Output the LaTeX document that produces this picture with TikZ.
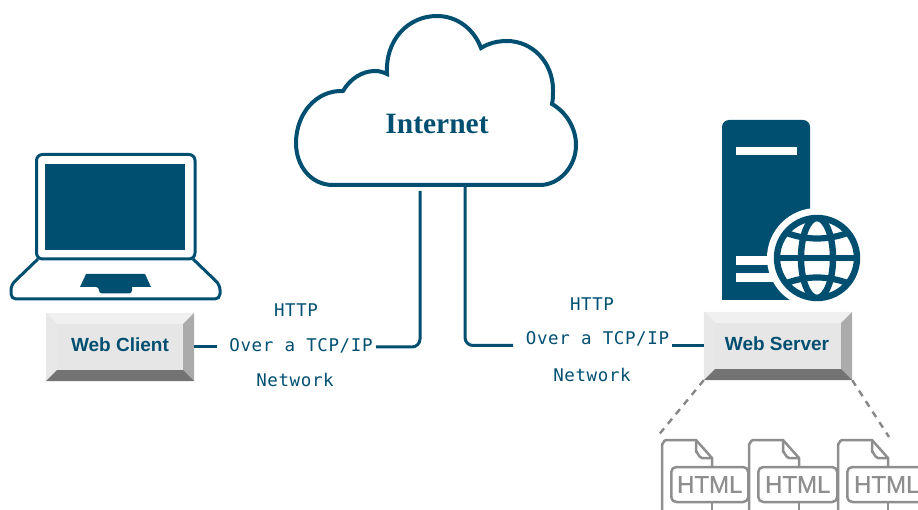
\documentclass[tikz,border=0pt]{standalone}
\usepackage{fontspec}
\setmainfont{Liberation Sans}
\newfontfamily\monofam[LetterSpace=3.5]{DejaVu Sans Mono}
\newfontfamily\serifam{Liberation Serif}
\newfontfamily\htmlfam[FakeBold=0.7]{Liberation Sans}
\definecolor{teal}{HTML}{004F71}
\definecolor{fgray}{HTML}{8E8E8E}
\definecolor{BtnC}{HTML}{E6E6E6}
\tikzset{
  tealline/.style={draw=teal,line width=3pt,line join=round},
  wire/.style={tealline,rounded corners=8pt},
  lbl/.style={text=teal,inner sep=0pt,font=\monofam\fontsize{17.5}{20}\selectfont},
  btnbox/.style={fill=BtnC,minimum width=148pt,minimum height=68pt,inner sep=0pt},
  btntext/.style={text=teal,inner sep=0pt,font=\bfseries\fontsize{19}{22}\selectfont},
  filepath/.style={draw=fgray,line width=2.5pt,line join=round},
  dashline/.style={draw=gray!95,line width=2.4pt,dash pattern=on 6.5pt off 6pt}
}
\usetikzlibrary{calc}
\newcommand{\bevel}[1]{%
  \fill[color=white!94!black] (#1.north west) -- (#1.north east) -- ++(-11,11) -- ($(#1.north west)+(11,11)$) -- cycle;
  \fill[color=white!91!black] (#1.north west) -- (#1.south west) -- ++(11,-11) -- ($(#1.north west)+(11,11)$) -- cycle;
  \fill[color=black!33] (#1.north east) -- (#1.south east) -- ++(-11,-11) -- ($(#1.north east)+(-11,11)$) -- cycle;
  \fill[color=black!55] (#1.south west) -- (#1.south east) -- ++(-11,-11) -- ($(#1.south west)+(11,-11)$) -- cycle;
}
\newcommand{\htmlfile}[3]{% name, left x, label width
  \begin{scope}[xshift=#2pt]
    \draw[filepath] (0,510) -- (0,444) to[out=-90,in=180] (4,440) -- (34,440) -- (50,458) -- (50,467);
    \draw[filepath] (34,440) -- (34,452) to[out=90,in=180] (40,458) -- (50,458);
    \draw[filepath] (50,502) -- (50,510);
    \node[filepath,fill=white,rounded corners=5pt,minimum width=#3pt,minimum height=35pt,inner sep=0pt,anchor=west,text=fgray,font=\htmlfam\fontsize{24}{26}\selectfont] (#1) at (8,484.5) {HTML};
  \end{scope}
}
\begin{document}
\begin{tikzpicture}[x=1pt,y=-1pt]
\useasboundingbox (0,0) rectangle (918,510);
\clip (0,0) rectangle (918,510);

% Cloud
\draw[teal,line width=4pt,line join=miter] (333,185)
  .. controls (311,185) and (296,166) .. (296,143)
  .. controls (296,114) and (316,90) .. (343,91)
  .. controls (350,79) and (362,71) .. (375,71)
  .. controls (379,71) and (383,72) .. (387,74)
  .. controls (385,40) and (408,16) .. (437,16)
  .. controls (457,16) and (474,29) .. (481,48)
  .. controls (489,43) and (498,41) .. (507,41)
  .. controls (532,41) and (553,62) .. (553,90)
  .. controls (553,95) and (553,100) .. (552,104)
  .. controls (566,112) and (576,128) .. (576,145)
  .. controls (576,167) and (559,185) .. (540,185) -- cycle;
\node[text=teal,inner sep=0pt,font=\serifam\bfseries\fontsize{29.5}{32}\selectfont] (internet) at (437,124) {Internet};
\coordinate (cloudL) at (420,191);
\coordinate (cloudR) at (465,185);

% Laptop
\draw[teal,line width=3pt,rounded corners=6pt] (36.5,154.5) rectangle (195,259);
\fill[teal] (45,164) rectangle (185,250.5);
\draw[teal,line width=3pt,line join=round,rounded corners=5pt] (38,259) -- (11,285) -- (11,299) -- (220,299) -- (220,285) -- (193,259);
\fill[teal] (86,274) -- (145,274) -- (151,287) -- (132,287) -- (132,290) [rounded corners=3pt] -- (132,293.5) -- (99,293.5) -- (99,287) [sharp corners] -- (80,287) -- cycle;

% Server tower
\fill[teal] (722,300) [rounded corners=7pt] -- (722,120) -- (810,120) [sharp corners] -- (810,300) -- cycle;
\fill[white] (736,147) rectangle (797,155);
\fill[white] (736,256) rectangle (790,265);
\fill[white] (736,273) rectangle (790,282);
\fill[white] (817,258) circle (50);
% Globe
\begin{scope}
  \draw[teal,line width=6.4pt] (817,258) circle (40);
  \clip (817,258) circle (40);
  \draw[teal,line width=6.4pt] (817,258) ellipse (16 and 40);
  \draw[teal,line width=6.2pt] (770,258) -- (864,258);
  \draw[teal,line width=6.2pt] (770,225) .. controls (800,243) and (834,243) .. (864,225);
  \draw[teal,line width=6.2pt] (770,291) .. controls (800,273) and (834,273) .. (864,291);
\end{scope}

% Buttons
\node[btnbox] (client) at (120,347) {};
\bevel{client}
\node[btnbox] (server) at (778,346) {};
\bevel{server}
\node[btntext] (clienttxt) at (120,345) {Web Client};
\node[btntext] (servertxt) at (777,344) {Web Server};

% Labels
\node[lbl] (lh) at (296,310) {HTTP};
\node[lbl] (lo) at (301,346) {Over a TCP/IP};
\node[lbl] (ln) at (295,380) {Network};
\node[lbl] (rh) at (592,304) {HTTP};
\node[lbl] (ro) at (597.5,339) {Over a TCP/IP};
\node[lbl] (rn) at (592,375) {Network};

% Connectors
\coordinate (l1) at (217,347);
\coordinate (l2) at (376,347);
\coordinate (r1) at (513,345.5);
\coordinate (r2) at (672,345.5);
\draw[tealline] (client.east |- l1) -- (l1);
\draw[wire] (l2) -| (cloudL);
\draw[wire] (cloudR) |- (r1);
\draw[tealline] (r2) -- (server.west |- r2);

% Dashed
\coordinate (d1) at (657,437);
\coordinate (d2) at (889,437);
\draw[dashline] (server.south west) -- (d1);
\draw[dashline] (server.south east) -- (d2);

% HTML files
\htmlfile{h1}{662}{77}
\htmlfile{h2}{749}{79}
\htmlfile{h3}{838}{79}
\end{tikzpicture}
\end{document}
